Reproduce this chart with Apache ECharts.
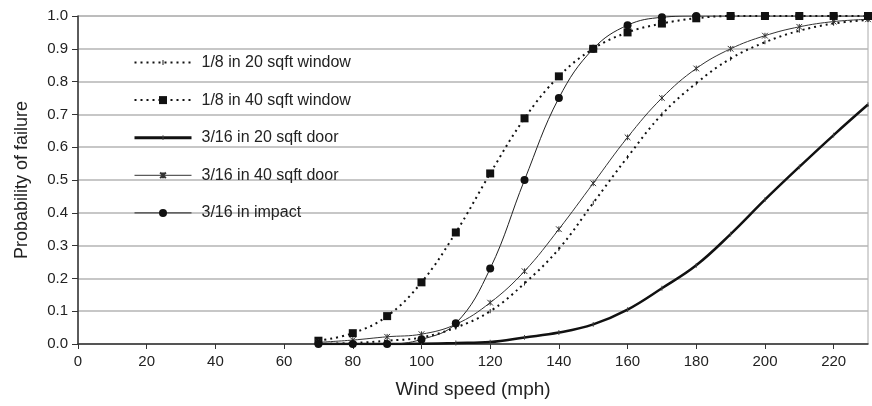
<!DOCTYPE html>
<html>
<head>
<meta charset="utf-8">
<title>Probability of failure</title>
<script src="https://cdn.jsdelivr.net/npm/echarts@6/dist/echarts.min.js"></script>
</head>
<body style="margin:0px;">
<div id="main" style="width:872px;height:406px;"></div>
<script type="text/javascript">
// wind speed (mph) for each point
var speeds = [70, 80, 90, 100, 110, 120, 130, 140, 150, 160, 170, 180, 190, 200, 210, 220, 230];

var win20 = [0.0, 0.003, 0.01, 0.02, 0.05, 0.10, 0.185, 0.29, 0.43, 0.57, 0.70, 0.795, 0.87, 0.92, 0.955, 0.977, 0.988];
var win40 = [0.01, 0.033, 0.085, 0.188, 0.34, 0.52, 0.688, 0.816, 0.90, 0.95, 0.977, 0.993, 1.0, 1.0, 1.0, 1.0, 1.0];
var door20 = [0, 0, 0, 0.001, 0.003, 0.006, 0.02, 0.035, 0.06, 0.105, 0.17, 0.24, 0.335, 0.44, 0.54, 0.637, 0.73];
var door40 = [0.005, 0.012, 0.022, 0.03, 0.06, 0.126, 0.222, 0.35, 0.49, 0.63, 0.75, 0.84, 0.90, 0.94, 0.967, 0.983, 0.99];
var impact = [0, 0, 0, 0.014, 0.063, 0.23, 0.50, 0.75, 0.90, 0.972, 0.996, 1.0, 1.0, 1.0, 1.0, 1.0, 1.0];

var names = ['1/8 in 20 sqft window', '1/8 in 40 sqft window', '3/16 in 20 sqft door', '3/16 in 40 sqft door', '3/16 in impact'];

function pairs(vals) {
	return speeds.map(function (s, i) { return [s, vals[i]]; });
}

var font = 'Liberation Sans, Arial, sans-serif';
var ink = '#111';

// marker shapes, padded with bare move-tos so the legend draws them small
var tickMark = 'path://M0,0M10,10M4.4,2L5.6,2L5.6,8L4.4,8Z';
var starMark = 'path://M-2,-2M12,12M0,0L10,10M10,0L0,10M5,0L5,10';

var myChart = echarts.init(document.getElementById('main'));

myChart.setOption({
	animation: false,
	backgroundColor: '#fff',
	grid: {
		left: 78, right: 4, top: 16, bottom: 62,
		show: true, borderColor: '#aaa', borderWidth: 1
	},
	legend: {
		orient: 'vertical',
		left: 133, top: 54.5, padding: 0,
		itemWidth: 57, itemHeight: 10, itemGap: 21.6,
		data: [
			names[0], names[1],
			{ name: names[2], lineStyle: { width: 3 } },
			{ name: names[3], lineStyle: { width: 1 } },
			{ name: names[4], lineStyle: { width: 1 } }
		],
		textStyle: { fontFamily: font, fontSize: 16, color: '#222', padding: [0, 0, 0, 5] }
	},
	xAxis: {
		type: 'value', min: 0, max: 230, interval: 20,
		name: 'Wind speed (mph)', nameLocation: 'middle', nameGap: 36,
		nameTextStyle: { fontFamily: font, fontSize: 19, color: '#222' },
		axisLine: { lineStyle: { color: '#333', width: 1.5 } },
		axisTick: { show: true, length: 5, lineStyle: { color: '#333' } },
		axisLabel: { fontFamily: font, fontSize: 15, color: '#222', margin: 10, showMaxLabel: false },
		splitLine: { show: false }
	},
	yAxis: {
		type: 'value', min: 0, max: 1, interval: 0.1,
		name: 'Probability of failure', nameLocation: 'middle', nameGap: 47,
		nameTextStyle: { fontFamily: font, fontSize: 18, color: '#222' },
		axisLine: { show: true, lineStyle: { color: '#333', width: 1.5 } },
		axisTick: { show: true, length: 6, lineStyle: { color: '#333' } },
		axisLabel: {
			fontFamily: font, fontSize: 15, color: '#222', margin: 10,
			formatter: function (v) { return v.toFixed(1); }
		},
		splitLine: { lineStyle: { color: '#b4b4b4', width: 1.5 } }
	},
	series: [
		{
			name: names[0], type: 'line', data: pairs(win20), smooth: 0.4,
			symbol: tickMark, symbolSize: 7,
			itemStyle: { color: ink },
			lineStyle: { color: ink, width: 2, type: [2, 4] }
		},
		{
			name: names[1], type: 'line', data: pairs(win40), smooth: 0.4,
			symbol: 'rect', symbolSize: 8,
			itemStyle: { color: ink },
			lineStyle: { color: ink, width: 2, type: [2, 4] }
		},
		{
			name: names[2], type: 'line', data: pairs(door20), smooth: 0.4,
			symbol: tickMark, symbolSize: 8,
			itemStyle: { color: '#444' },
			lineStyle: { color: ink, width: 2.5 }
		},
		{
			name: names[3], type: 'line', data: pairs(door40), smooth: 0.4,
			symbol: starMark, symbolSize: 8,
			itemStyle: { color: 'none', borderColor: '#333', borderWidth: 1 },
			lineStyle: { color: '#333', width: 1 }
		},
		{
			name: names[4], type: 'line', data: pairs(impact), smooth: 0.4,
			symbol: 'circle', symbolSize: 8,
			itemStyle: { color: ink },
			lineStyle: { color: '#222', width: 1 }
		}
	]
});
</script>
</body>
</html>
